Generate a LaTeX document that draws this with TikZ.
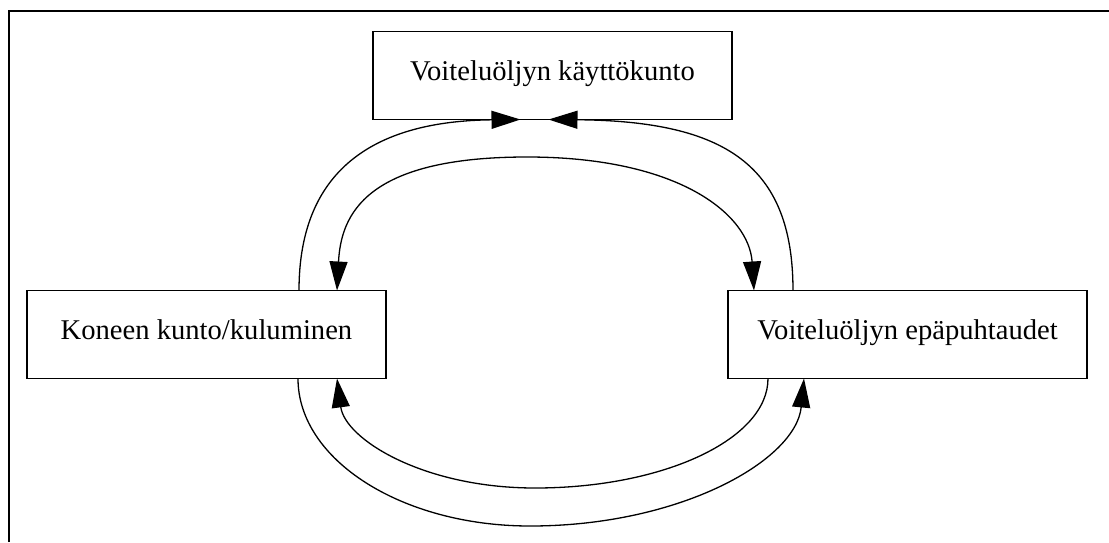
\documentclass[tikz,border=0pt]{standalone}
\usepackage{fontspec}
\setmainfont{Liberation Serif}
\usetikzlibrary{arrows.meta}
\tikzset{
  box/.style={draw, line width=1.3pt, inner sep=0pt, outer sep=0pt,
    minimum width=359pt, minimum height=88pt,
    text height=18pt, text depth=9pt,
    font=\fontsize{28.6}{34}\selectfont},
  conn/.style={line width=1.3pt},
  tip/.style={-{Triangle[length=29pt,width=18pt]}},
  bothtip/.style={{Triangle[length=29pt,width=18pt]}-{Triangle[length=29pt,width=18pt]}},
}
\begin{document}
\begin{tikzpicture}[x=1pt,y=-1pt]
\useasboundingbox (0,0) rectangle (1109,542);
\draw[line width=2pt] (9,542) -- (9,11) -- (1109,11);

\node[box] (T) at (552.5,75.5) {Voiteluöljyn käyttökunto};
\node[box] (L) at (206.5,334.5) {Koneen kunto/kuluminen};
\node[box] (R) at (907.5,334.5) {Voiteluöljyn epäpuhtaudet};

% outer top arcs
\draw[conn,tip] ([xshift=272pt]L.north west)
  .. controls (299,165) and (380,121) .. ([xshift=147.5pt]T.south west);
\draw[conn,tip] ([xshift=65pt]R.north west)
  .. controls (793,165) and (725,121) .. ([xshift=175.5pt]T.south west);

% inner top arc (double headed)
\coordinate (topapex) at (527,157);
\draw[conn,bothtip] ([xshift=310pt]L.north west)
  .. controls (341,215) and (365,157) .. (topapex)
  .. controls (680,157) and (749,215) .. ([xshift=26pt]R.north west);

% inner bottom arc
\coordinate (botin) at (535,488);
\draw[conn,tip] ([xshift=40pt]R.south west)
  .. controls (768,439) and (664,488) .. (botin)
  .. controls (423,488) and (345,439) .. ([xshift=310pt]L.south west);

% outer bottom arc
\coordinate (botout) at (530,526);
\draw[conn,tip] ([xshift=271pt]L.south west)
  .. controls (298,460) and (402,526) .. (botout)
  .. controls (681,526) and (796,460) .. ([xshift=76pt]R.south west);
\end{tikzpicture}
\end{document}
